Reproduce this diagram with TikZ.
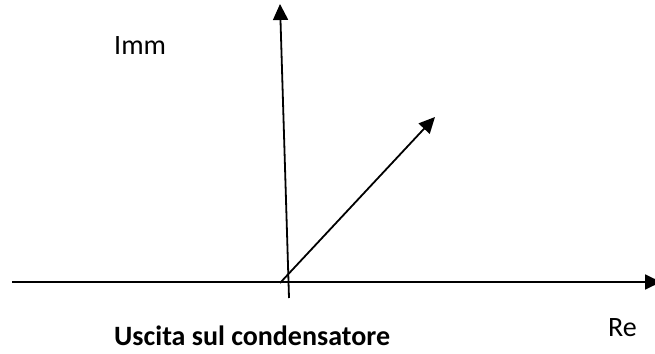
\documentclass[tikz,border=0pt]{standalone}
\usepackage{fontspec}
\setmainfont{Carlito}
\usetikzlibrary{arrows.meta}
\begin{document}
\begin{tikzpicture}[x=1pt,y=-1pt,
  axis/.style={line width=1.8pt,-{Triangle[length=16pt,width=15pt]}},
  lbl/.style={font=\fontsize{28}{34}\selectfont,inner sep=0pt}]
\useasboundingbox (0,0) rectangle (655,353);
\clip (0,0) rectangle (655,353);
\coordinate (xs) at (12,282);
\coordinate (xe) at (661,282);
\coordinate (ys) at (289,298);
\coordinate (ye) at (280,4);
\coordinate (vs) at (280,283);
\coordinate (ve) at (435,117);
\draw[axis] (xs) -- (xe);
\draw[axis] (ys) -- (ye);
\draw[axis] (vs) -- (ve);
\node[lbl,anchor=base west] (imm) at (114,55) {Imm};
\node[lbl,anchor=base west] (re) at (608,336) {Re};
\node[lbl,anchor=base west,font=\fontsize{28}{34}\selectfont\bfseries] (t) at (114,345) {Uscita sul condensatore};
\end{tikzpicture}
\end{document}
